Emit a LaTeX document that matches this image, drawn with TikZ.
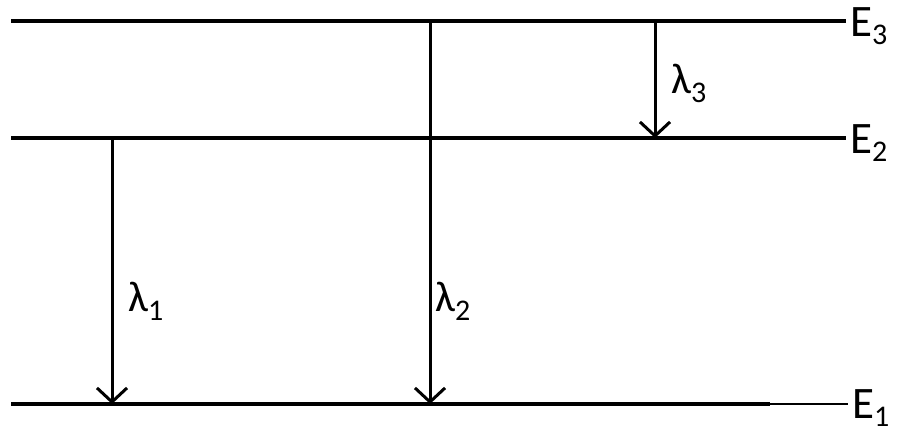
\documentclass[tikz,border=0pt]{standalone}
\usepackage{fontspec}
\setmainfont{Carlito}
\usetikzlibrary{arrows.meta}
\newcommand{\Elab}[2]{\fontsize{45}{45}\selectfont E\raisebox{-8pt}{\fontsize{30}{30}\selectfont #1}}
\newcommand{\Llab}[1]{\fontsize{43}{43}\selectfont λ\raisebox{-9pt}{\fontsize{30}{30}\selectfont #1}}
\begin{document}
\begin{tikzpicture}[x=1pt,y=-1pt,
  level/.style={line width=3.4pt},
  trans/.style={line width=3pt,-{Straight Barb[length=14pt,width=30pt,line width=3pt]}},
  lab/.style={anchor=base west,inner sep=0pt}]
\useasboundingbox (0,0) rectangle (900,433);
% level end points
\coordinate (L3) at (11,21);  \coordinate (R3) at (846,21);
\coordinate (L2) at (11,138); \coordinate (R2) at (846,138);
\coordinate (L1) at (11,404); \coordinate (M1) at (770,404); \coordinate (R1) at (848,404);
\draw[level] (L3) -- (R3);
\draw[level] (L2) -- (R2);
\draw[level] (L1) -- (M1);
\draw[line width=1.8pt] (M1) -- (R1);
% level labels
\node[lab] (E3) at (850,37) {\Elab{3}{}};
\node[lab] (E2) at (850,154) {\Elab{2}{}};
\node[lab] (E1) at (852,418) {\Elab{1}{}};
% transition end points
\coordinate (a1s) at (112,138); \coordinate (a1e) at (112,404);
\coordinate (a2s) at (430,21);  \coordinate (a2e) at (430,404);
\coordinate (a3s) at (655,21);  \coordinate (a3e) at (655,138);
\draw[trans] (a1s) -- (a1e);
\draw[trans] (a2s) -- (a2e);
\draw[trans] (a3s) -- (a3e);
% transition labels
\node[lab] (l1) at (128,311) {\Llab{1}};
\node[lab] (l2) at (435,311) {\Llab{2}};
\node[lab] (l3) at (671,94) {\Llab{3}};
\end{tikzpicture}
\end{document}
